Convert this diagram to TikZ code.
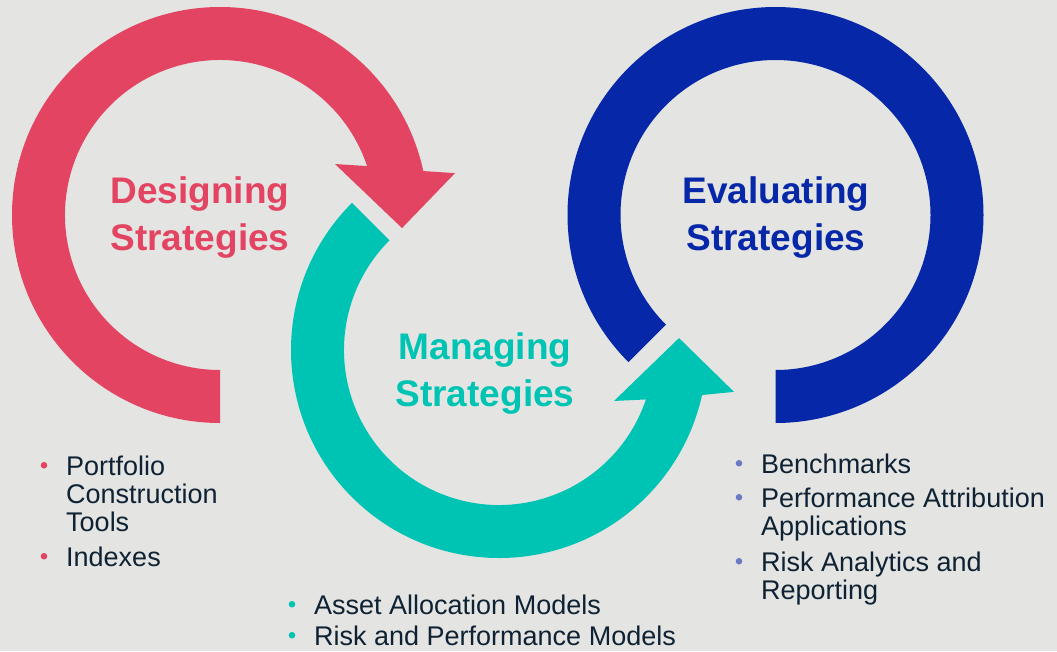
\documentclass[tikz,border=0pt]{standalone}
\usepackage{fontspec}
\setmainfont{Liberation Sans}
\usepackage{tikz}

\begin{document}
\begin{tikzpicture}[x=1pt,y=1pt,
  title/.style={font=\bfseries\fontsize{37}{47}\selectfont, align=center, anchor=base, inner sep=0pt},
  item/.style={font=\fontsize{27}{28}\selectfont, align=left, anchor=base west, inner sep=0pt, text=textDark}]
\definecolor{bgColor}{RGB}{228,228,226}
\definecolor{redColor}{RGB}{227,68,98}
\definecolor{tealColor}{RGB}{0,196,179}
\definecolor{blueColor}{RGB}{5,39,168}
\definecolor{dotBlue}{RGB}{108,122,196}
\definecolor{textDark}{RGB}{14,34,51}
\fill[bgColor] (0,0) rectangle (1057,-651);
\useasboundingbox (0,0) rectangle (1057,-651);

\coordinate (redC) at (220,-215);
\coordinate (tealC) at (499,-350);
\coordinate (blueC) at (775.5,-215);

\fill[redColor] ([shift={(270:208pt)}]redC) arc[start angle=270, end angle=12.2, radius=208pt]
  -- ([shift={(10.1:238.7pt)}]redC) -- ([shift={(-4.1:182.5pt)}]redC) -- ([shift={(23.9:125.8pt)}]redC)
  -- ([shift={(18.4:155pt)}]redC) arc[start angle=18.4, end angle=270, radius=155pt] -- cycle;
\fill[tealColor] ([shift={(135:208pt)}]tealC) arc[start angle=135, end angle=347.5, radius=208pt]
  -- ([shift={(-10.1:238.7pt)}]tealC) -- ([shift={(3.8:180.4pt)}]tealC) -- ([shift={(-23.9:125.8pt)}]tealC)
  -- ([shift={(341.4:155pt)}]tealC) arc[start angle=341.4, end angle=135, radius=155pt] -- cycle;
\fill[blueColor] ([shift={(225:208pt)}]blueC) arc[start angle=225, end angle=-90, radius=208pt]
  -- ([shift={(-90:155pt)}]blueC) arc[start angle=-90, end angle=225, radius=155pt] -- cycle;

\node[title, text=redColor] (designing) at (200,-250) {Designing\\Strategies};
\node[title, text=tealColor] (managing) at (485,-406) {Managing\\Strategies};
\node[title, text=blueColor] (evaluating) at (776,-250) {Evaluating\\Strategies};

\foreach \nm/\px/\py/\bc/\txt in {
  portfolio/66/531/redColor/{Portfolio\\Construction\\Tools},
  indexes/66/566/redColor/{Indexes},
  allocation/314/614/tealColor/{Asset Allocation Models},
  riskperf/314/645/tealColor/{Risk and Performance Models},
  benchmarks/761/473/dotBlue/{Benchmarks},
  attribution/761/535/dotBlue/{Performance Attribution\\Applications},
  analytics/761/599/dotBlue/{Risk Analytics and\\Reporting}}
{
  \node[item] (\nm) at (\px,-\py) {\txt};
  \fill[\bc] ([shift={(-22pt,-10pt)}]\nm.north west) circle (3.3pt);
}
\end{tikzpicture}
\end{document}
